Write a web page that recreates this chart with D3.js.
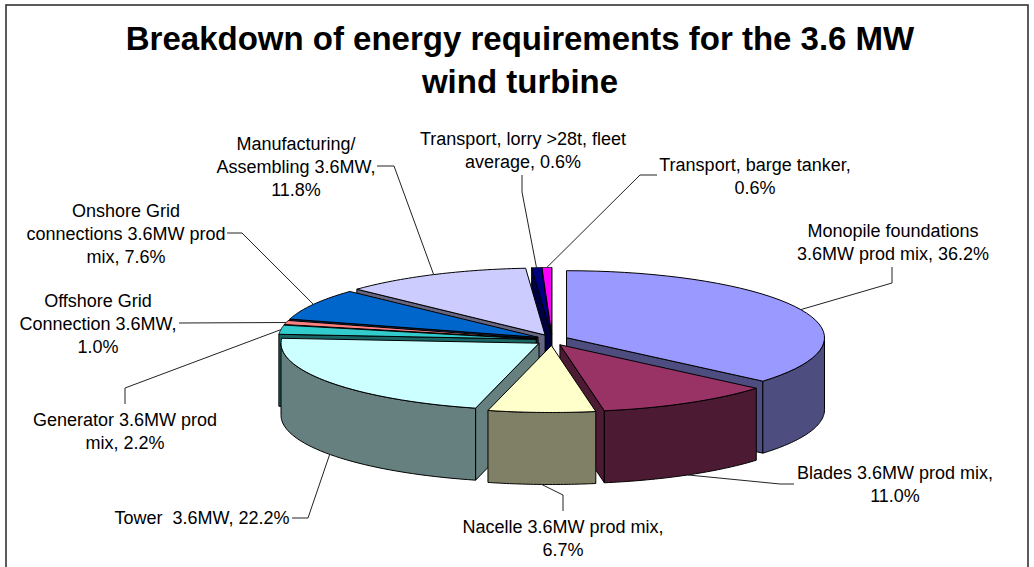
<!DOCTYPE html>
<html>
<head>
<meta charset="utf-8">
<script src="https://cdn.jsdelivr.net/npm/d3@7"></script>
<style>
  html, body { margin: 0; padding: 0; background: #fff; overflow: hidden; }
  text { font-family: "Liberation Sans", Arial, sans-serif; fill: #000; white-space: pre; }
</style>
</head>
<body>
<div id="chart"></div>
<script>
const width = 1034
const height = 567

const names = ["Monopile foundations 3.6MW prod mix", "Blades 3.6MW prod mix", "Nacelle 3.6MW prod mix", "Tower 3.6MW",
    "Generator 3.6MW prod mix", "Offshore Grid Connection 3.6MW", "Onshore Grid connections 3.6MW prod mix",
    "Manufacturing/Assembling 3.6MW", "Transport, lorry >28t, fleet average", "Transport, barge tanker"]
const shares = [36.2, 11.0, 6.7, 22.2, 2.2, 1.0, 7.6, 11.8, 0.6, 0.6]
const colors = ["#9999ff", "#993366", "#ffffcc", "#ccffff", "#33cccc", "#ff8080", "#0066cc", "#ccccff", "#000080", "#ff00ff"]

const titleLines = ["Breakdown of energy requirements for the 3.6 MW", "wind turbine"]
const labelLines = [
    ["Monopile foundations", "3.6MW prod mix, 36.2%"],
    ["Blades 3.6MW prod mix,", "11.0%"],
    ["Nacelle 3.6MW prod mix,", "6.7%"],
    ["Tower  3.6MW, 22.2%"],
    ["Generator 3.6MW prod", "mix, 2.2%"],
    ["Offshore Grid", "Connection 3.6MW,", "1.0%"],
    ["Onshore Grid", "connections 3.6MW prod", "mix, 7.6%"],
    ["Manufacturing/", "Assembling 3.6MW,", "11.8%"],
    ["Transport, lorry >28t, fleet", "average, 0.6%"],
    ["Transport, barge tanker,", "0.6%"]
]

// label placement: centre x, first baseline
const labelPos = [[893, 237], [895, 479], [563, 533], [202, 524], [125, 426], [98, 307], [126, 217], [296, 150], [523, 145], [755, 171]]
// leader line: end at the label, then the elbow; the third point is found on the rim
const leaderPts = [
    [[892, 267], [892, 283]],
    [[794, 484], [780, 484]],
    [[563, 511], [563, 495]],
    [[292, 518], [308, 518]],
    [[125, 404], [125, 388]],
    [[179, 323], [179, 323]],
    [[227, 233], [242, 233]],
    [[377, 166], [394, 166]],
    [[522, 175], [522, 192]],
    [[657, 175], [640, 175]]
]
// slices nearest the viewer go last
const drawOrder = [9, 8, 7, 6, 5, 4, 0, 3, 1, 2]

const centre = {x: 552, y: 340}
const rx = 258
const ry = 67
const depth = 72
const explodeX = 16
const explodeY = 5.5

const svg = d3.select("#chart").append("svg").attr("width", width).attr("height", height).style("display", "block")

svg.append("rect")
    .attr("x", 6).attr("y", 5)
    .attr("width", 1022).attr("height", height + 20)
    .attr("fill", "#fff").attr("stroke", "#333").attr("stroke-width", 1.6)

svg.append("g").selectAll("text").data(titleLines).enter().append("text")
    .attr("x", 520)
    .attr("y", (d, i) => 50 + i * 43)
    .attr("text-anchor", "middle")
    .style("font-size", "33px")
    .style("font-weight", "bold")
    .text(d => d)

const slices = d3.pie().sort(null)(shares).map((d, i) => {
    const mid = (d.startAngle + d.endAngle) / 2
    return {
        i: i,
        start: d.startAngle,
        end: d.endAngle,
        mid: mid,
        cx: centre.x + explodeX * Math.sin(mid),
        cy: centre.y - explodeY * Math.cos(mid)
    }
})

const rim = (s, a, drop = 0) => [s.cx + rx * Math.sin(a), s.cy - ry * Math.cos(a) + drop]
const arcPts = (s, a0, a1, drop = 0) => d3.range(0, 41).map(k => rim(s, a0 + (a1 - a0) * k / 40, drop))
const outline = d3.line().curve(d3.curveLinearClosed)
const wallColor = c => {
    const rgb = d3.rgb(c)
    return d3.rgb(rgb.r / 2, rgb.g / 2, rgb.b / 2).formatHex()
}

const pieGroup = svg.append("g").attr("stroke", "#000").attr("stroke-width", 1).attr("stroke-linejoin", "round")

drawOrder.forEach(i => {
    const s = slices[i]
    const g = pieGroup.append("g")
    const wall = wallColor(colors[i])

    // radial cut faces that look towards the viewer
    const faces = []
    if (Math.sin(s.start) < 0) faces.push(s.start)
    if (Math.sin(s.end) > 0) faces.push(s.end)
    faces.forEach(a => {
        g.append("path").attr("fill", wall).attr("d", outline([
            [s.cx, s.cy], rim(s, a), rim(s, a, depth), [s.cx, s.cy + depth]
        ]))
    })

    // outer wall, front half only
    const lo = Math.max(s.start, Math.PI / 2)
    const hi = Math.min(s.end, Math.PI * 1.5)
    if (lo < hi) {
        g.append("path").attr("fill", wall)
            .attr("d", outline(arcPts(s, lo, hi).concat(arcPts(s, hi, lo, depth))))
    }

    // top
    g.append("path").attr("fill", colors[i])
        .attr("d", outline([[s.cx, s.cy]].concat(arcPts(s, s.start, s.end))))
})

const leaderLine = d3.line()
svg.append("g").selectAll("path").data(slices).enter().append("path")
    .attr("fill", "none")
    .attr("stroke", "#222")
    .attr("stroke-width", 1)
    .attr("d", s => {
        // the front half hits the bottom edge of the wall, the rest the top rim
        const front = s.mid > Math.PI / 2 && s.mid < Math.PI * 1.5
        return leaderLine(leaderPts[s.i].concat([rim(s, s.mid, front ? depth : 0)]))
    })

const labels = svg.append("g").selectAll("g").data(labelLines).enter().append("g")
labels.selectAll("text").data((d, i) => d.map((line, k) => ({line, k, i}))).enter().append("text")
    .attr("x", d => labelPos[d.i][0])
    .attr("y", d => labelPos[d.i][1] + d.k * 23)
    .attr("text-anchor", "middle")
    .style("font-size", "18px")
    .text(d => d.line)
</script>
</body>
</html>
